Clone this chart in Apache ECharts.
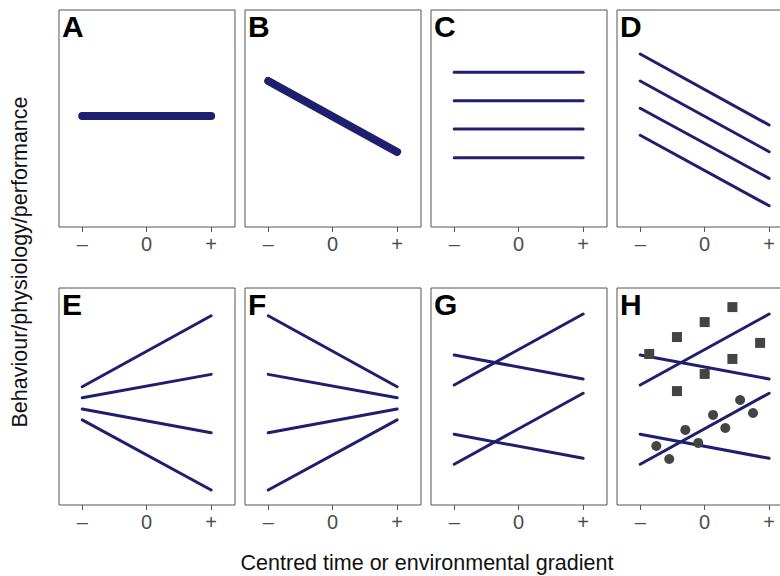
<!DOCTYPE html>
<html>
<head>
<meta charset="utf-8">
<script src="https://cdn.jsdelivr.net/npm/echarts@6/dist/echarts.min.js"></script>
<style>
  html, body { margin: 0; padding: 0; background: #fff; }
  #main { width: 780px; height: 576px; }
</style>
</head>
<body>
<div id="main"></div>
<script>
// tick positions on the centred gradient and their labels
const xTickValues = [-1, 0, 1]
const xTickLabels = ['–', '0', '+']

const panelLetters = ['A', 'B', 'C', 'D', 'E', 'F', 'G', 'H']

// each line: [response at "–", response at "+"] (0 = panel bottom, 1 = panel top)
const linesA = [[0.512, 0.512]]
const linesB = [[0.673, 0.346]]
const linesC = [[0.713, 0.713], [0.582, 0.582], [0.452, 0.452], [0.319, 0.319]]
const linesD = [[0.797, 0.470], [0.673, 0.347], [0.547, 0.224], [0.423, 0.098]]
const linesE = [[0.545, 0.872], [0.494, 0.602], [0.442, 0.333], [0.392, 0.069]]
const linesF = [[0.872, 0.545], [0.602, 0.494], [0.333, 0.442], [0.069, 0.392]]
const linesG = [[0.691, 0.581], [0.553, 0.880], [0.326, 0.215], [0.188, 0.515]]
const linesH = [[0.691, 0.581], [0.553, 0.880], [0.326, 0.215], [0.188, 0.515]]

// raw observations in panel H
const squaresH = [
  [-0.86, 0.696], [-0.43, 0.774], [0.0, 0.843], [0.43, 0.912],
  [0.86, 0.747], [0.43, 0.673], [0.0, 0.604], [-0.43, 0.525],
]
const circlesH = [
  [-0.75, 0.272], [-0.55, 0.212], [-0.30, 0.346], [-0.10, 0.286],
  [0.13, 0.415], [0.32, 0.355], [0.55, 0.484], [0.75, 0.424],
]

const panelLines = [linesA, linesB, linesC, linesD, linesE, linesF, linesG, linesH]
const panelLineWidth = [8, 8, 3, 3, 3, 3, 3, 3]

// layout
const colLeft = [59, 245, 431, 617]
const rowTop = [10, 288]
const panelW = 176
const panelH = 217
const lineColor = '#1f1f70'
const font = '"Liberation Sans", Arial, sans-serif'

const chart = echarts.init(document.getElementById('main'), null, { renderer: 'svg' })

const grid = []
const xAxis = []
const yAxis = []
const title = []
const series = []

panelLetters.forEach((letter, i) => {
  const left = colLeft[i % 4]
  const top = rowTop[Math.floor(i / 4)]
  grid.push({
    left, top, width: panelW, height: panelH,
    outerBoundsMode: 'none', containLabel: false,
    show: true, borderColor: '#555', borderWidth: 1, backgroundColor: 'transparent',
  })
  xAxis.push({
    type: 'value', gridIndex: i, min: -1.36, max: 1.37,
    axisLine: { show: false },
    splitLine: { show: false },
    axisTick: { show: true, customValues: xTickValues, length: 5, lineStyle: { color: '#555' } },
    axisLabel: {
      customValues: xTickValues,
      formatter: (v) => xTickLabels[xTickValues.indexOf(v)],
      color: '#4d4d4d', fontSize: 20, margin: 7, fontFamily: font,
    },
  })
  yAxis.push({ type: 'value', gridIndex: i, min: 0, max: 1, show: false })
  title.push({
    text: letter, left: left + 3, top: top + 1, padding: 0,
    textStyle: { fontSize: 30, fontWeight: 'bold', color: '#000', fontFamily: font },
  })
  panelLines[i].forEach((ln) => {
    series.push({
      type: 'line', xAxisIndex: i, yAxisIndex: i,
      data: [[xTickValues[0], ln[0]], [xTickValues[2], ln[1]]],
      symbol: 'none', silent: true,
      lineStyle: { width: panelLineWidth[i], color: lineColor, cap: 'round' },
    })
  })
})

series.push({
  type: 'scatter', xAxisIndex: 7, yAxisIndex: 7, data: squaresH,
  symbol: 'rect', symbolSize: 10, itemStyle: { color: '#444', opacity: 1 }, z: 3,
})
series.push({
  type: 'scatter', xAxisIndex: 7, yAxisIndex: 7, data: circlesH,
  symbol: 'circle', symbolSize: 10, itemStyle: { color: '#444', opacity: 1 }, z: 3,
})

chart.setOption({
  animation: false,
  title, grid, xAxis, yAxis, series,
  graphic: [
    {
      type: 'text', x: 20, y: 262, rotation: Math.PI / 2,
      style: {
        text: 'Behaviour/physiology/performance', fontSize: 21.5, fontFamily: font,
        fill: '#111', textAlign: 'center', textVerticalAlign: 'middle',
      },
    },
    {
      type: 'text', x: 427, y: 563,
      style: {
        text: 'Centred time or environmental gradient', fontSize: 21.5, fontFamily: font,
        fill: '#111', textAlign: 'center', textVerticalAlign: 'middle',
      },
    },
  ],
})
</script>
</body>
</html>
